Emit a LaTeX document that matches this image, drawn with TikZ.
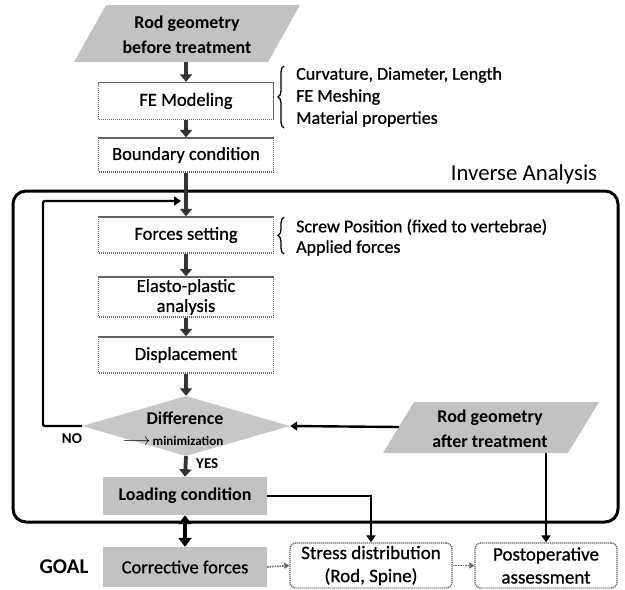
\documentclass[tikz,border=0pt]{standalone}
\usepackage{fontspec}
\setmainfont{Carlito}
\newfontfamily\mdfont{Carlito}[FakeBold=0.7]
\usetikzlibrary{shapes.geometric,arrows.meta,decorations.pathreplacing,calc}
\begin{document}
\begin{tikzpicture}[x=1pt,y=-1pt,
  txt/.style={font=\mdfont\fontsize{18.5}{21}\selectfont, align=center, inner sep=0pt},
  btxt/.style={font=\bfseries\fontsize{18}{25}\selectfont, align=center, inner sep=0pt},
  side/.style={font=\mdfont\fontsize{18}{21}\selectfont, anchor=west, inner sep=0pt},
  wbox/.style={txt, draw=black!60, dash pattern=on 1.2pt off 0.8pt, line width=1.3pt, minimum width=175pt, fill=white},
  rbox/.style={wbox, rounded corners=6pt, font=\mdfont\fontsize{19}{23}\selectfont},
  gbox/.style={fill=black!24, minimum width=164pt, inner sep=0pt, align=center},
  gfill/.style={fill=black!24},
  marrow/.style={line width=3.8pt, black!80, -{Triangle[length=7.5pt,width=12pt]}},
  darrow/.style={line width=4pt, black, {Triangle[length=9pt,width=13pt]}-{Triangle[length=9pt,width=13pt]}},
  larrow/.style={line width=2.4pt, black, -{Triangle[length=7pt,width=9pt]}},
  sarrow/.style={line width=1.6pt, black!60, dash pattern=on 1.5pt off 1pt, -{Triangle[length=5pt,width=6pt]}},
  bracestyle/.style={decorate, decoration={brace, amplitude=6pt, aspect=0.5}, line width=1.3pt}
]
\useasboundingbox (0,0) rectangle (625,590);
\fill[white] (0,0) rectangle (625,590);

% outer inverse analysis frame
\draw[line width=3pt, rounded corners=13pt] (13,191) rectangle (618,522);
\node[font=\fontsize{22.8}{24}\selectfont, inner sep=0pt] (inv) at (524,174) {Inverse Analysis};

% top parallelogram
\fill[gfill] (74,62) -- (106,5) -- (300,5) -- (268,62) -- cycle;
\node[btxt] (rodB) at (187,35) {Rod geometry\\before treatment};
\coordinate (rodBbot) at (186,62);

% main column
\node[wbox, minimum height=37pt] (fe) at (186,101) {FE Modeling};
\node[wbox, minimum height=34pt] (bc) at (186,155) {Boundary condition};
\node[wbox, minimum height=36pt] (fs) at (186,235) {Forces setting};
\node[wbox, minimum height=40pt, font=\mdfont\fontsize{18.5}{20}\selectfont] (ep) at (186,297) {Elasto-plastic\\analysis};
\node[wbox, minimum height=36pt] (dp) at (186,355) {Displacement};

\node[diamond, fill=black!22, minimum width=208pt, minimum height=60pt, inner sep=0pt] (dia) at (186,426) {};
\node[inner sep=0pt, font=\bfseries\fontsize{18}{20}\selectfont] (diff) at (185,418) {Difference};
\node[inner sep=0pt, font=\bfseries\fontsize{13}{15}\selectfont] (mini) at (173,441) {{\fontsize{16}{16}\selectfont$\longrightarrow$}\,minimization};

\node[gbox, minimum height=38pt, font=\bfseries\fontsize{18}{20}\selectfont] (lc) at (185,496) {Loading condition};
\node[gbox, minimum height=40pt, font=\mdfont\fontsize{18.5}{20}\selectfont] (cf) at (185,567) {Corrective forces};
\node[font=\bfseries\fontsize{21}{24}\selectfont, inner sep=0pt] (goal) at (64,567) {GOAL};

\node[rbox, minimum width=162pt, minimum height=45pt] (sd) at (371,565.5) {Stress distribution\\(Rod, Spine)};
\node[rbox, minimum width=142pt, minimum height=45pt] (pa) at (546,565.5) {Postoperative\\assessment};

% right parallelogram
\fill[gfill] (383,453) -- (414,402) -- (599,402) -- (568,453) -- cycle;
\node[btxt] (rodA) at (490,429) {Rod geometry\\after treatment};
\coordinate (rodAleft) at (399,427);
\coordinate (rodAbot) at (546,453);

% side notes
\draw[bracestyle] (284,128) -- (284,66);
\node[side] (n1) at (296,75) {Curvature, Diameter, Length};
\node[side] (n2) at (296,97) {FE Meshing};
\node[side] (n3) at (296,119) {Material properties};
\draw[bracestyle] (284,254) -- (284,217);
\node[side] (n4) at (296,227) {Screw Position (fixed to vertebrae)};
\node[side] (n5) at (296,248) {Applied forces};

% labels
\node[font=\bfseries\fontsize{15}{17}\selectfont, inner sep=0pt] (no) at (72,439) {NO};
\node[font=\bfseries\fontsize{15}{17}\selectfont, inner sep=0pt, anchor=west] (yes) at (196,464) {YES};

% connectors
\draw[marrow] (rodBbot) -- (fe.north);
\draw[marrow] (fe.south) -- (bc.north);
\draw[marrow] (bc.south) -- (fs.north);
\coordinate (loopend) at (181,201);
\draw[larrow, rounded corners=2pt] (dia.west) -- (43,426) -- (43,201) -- (loopend);
\draw[marrow] (fs.south) -- (ep.north);
\draw[marrow] (ep.south) -- (dp.north);
\draw[marrow] (dp.south) -- (dia.north);
\draw[marrow] (dia.south) -- (lc.north);
\draw[darrow] (lc.south) -- (cf.north);
\draw[larrow] (rodAleft) -- (dia.east);
\draw[larrow] (lc.east) -| (sd.north);
\draw[larrow] (rodAbot) -- (pa.north);
\draw[sarrow] (cf.east) -- (sd.west);
\draw[sarrow] (sd.east) -- (pa.west);
\end{tikzpicture}
\end{document}
